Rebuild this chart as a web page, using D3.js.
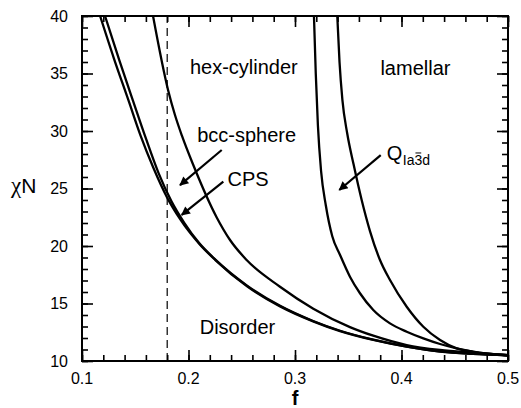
<!DOCTYPE html>
<html>
<head>
<meta charset="utf-8">
<script src="https://cdn.jsdelivr.net/npm/d3@7"></script>
<style>
  html, body { margin: 0; padding: 0; background: #fff; }
  svg text { font-family: "Liberation Sans", Arial, Helvetica, sans-serif; fill: #000; }
</style>
</head>
<body>
<svg id="chart" width="521" height="408"></svg>
<script>
// Phase boundaries: f (x) and chiN (y)
const odtF    = [0.117, 0.13, 0.1435, 0.155, 0.167, 0.18, 0.192, 0.21, 0.225, 0.255, 0.286, 0.317, 0.3423, 0.3735, 0.405, 0.436, 0.467, 0.5];
const odtChiN = [40, 36.3, 32.7, 29.6, 26.8, 24.2, 22.35, 20.2, 18.8, 16.5, 14.75, 13.45, 12.6, 11.83, 11.24, 10.82, 10.62, 10.5];

const cpsF    = [0.1216, 0.135, 0.148, 0.16, 0.172, 0.184, 0.196, 0.21, 0.225, 0.255, 0.286, 0.317, 0.3423, 0.3735, 0.405, 0.436, 0.467, 0.5];
const cpsChiN = [40, 36.17, 32.6, 29.35, 26.31, 23.88, 22.02, 20.26, 18.84, 16.56, 14.8, 13.48, 12.63, 11.85, 11.25, 10.83, 10.62, 10.5];

const hexF    = [0.1667, 0.1808, 0.1873, 0.1939, 0.2045, 0.2265, 0.239, 0.2546, 0.2859, 0.3172, 0.3516, 0.3735, 0.4049, 0.4362, 0.4671, 0.5];
const hexChiN = [40, 33.57, 31.39, 29.57, 27.04, 22.48, 20.52, 18.78, 16.46, 14.55, 12.95, 12.2, 11.39, 10.96, 10.72, 10.5];

const gyrLoF    = [0.3178, 0.3195, 0.3215, 0.3245, 0.329, 0.335, 0.3423, 0.3516, 0.361, 0.3735, 0.3892, 0.4049, 0.4205, 0.4362, 0.4518, 0.4671, 0.5];
const gyrLoChiN = [40, 35, 30.5, 26.5, 23.5, 20.85, 19.22, 17.33, 15.89, 14.43, 13.27, 12.55, 11.97, 11.48, 11.1, 10.81, 10.5];

const gyrHiF    = [0.3397, 0.3418, 0.3445, 0.349, 0.355, 0.3626, 0.3704, 0.3798, 0.3892, 0.4049, 0.4205, 0.4362, 0.4518, 0.4674, 0.5];
const gyrHiChiN = [40, 36, 32.7, 29.8, 27.1, 24.0, 21.3, 18.78, 17.04, 14.72, 12.98, 11.83, 11.1, 10.8, 10.5];

const boundaries = [
  [odtF, odtChiN], [cpsF, cpsChiN], [hexF, hexChiN], [gyrLoF, gyrLoChiN], [gyrHiF, gyrHiChiN],
];

const xMajor = [0.1, 0.2, 0.3, 0.4, 0.5];
const yMajor = [10, 15, 20, 25, 30, 35, 40];
const dilutionF = 0.18;

// region labels: text, f, chiN (baseline)
const regionLabels = [
  ["hex-cylinder", 0.252, 35.0],
  ["lamellar", 0.4131, 34.87],
  ["bcc-sphere", 0.2546, 29.07],
  ["CPS", 0.2559, 25.24],
  ["Disorder", 0.246, 12.32],
];

// arrows: from [f, chiN] to [f, chiN]
const arrows = [
  [[0.2312, 28.35], [0.192, 25.3]],
  [[0.2327, 25.59], [0.1936, 22.7]],
  [[0.3805, 27.91], [0.3416, 24.87]],
];

const margin = { top: 16, right: 13, bottom: 47, left: 82 };
const width = 521 - margin.left - margin.right;
const height = 408 - margin.top - margin.bottom;

const svg = d3.select("#chart");
const g = svg.append("g").attr("transform", `translate(${margin.left},${margin.top})`);

const x = d3.scaleLinear().domain([0.1, 0.5]).range([0, width]);
const y = d3.scaleLinear().domain([10, 40]).range([height, 0]);

svg.append("defs").append("clipPath").attr("id", "plot-clip")
  .append("rect").attr("width", width).attr("height", height);

svg.select("defs").append("marker")
  .attr("id", "arrowhead")
  .attr("viewBox", "0 0 10 10")
  .attr("refX", 9).attr("refY", 5)
  .attr("markerWidth", 11).attr("markerHeight", 9)
  .attr("markerUnits", "userSpaceOnUse")
  .attr("orient", "auto")
  .append("path").attr("d", "M0,0 L10,5 L0,10 Z").attr("fill", "#000");

// ticks on all four sides, pointing inward
function drawAxis(axis, transform, values, size) {
  const a = g.append("g").attr("transform", transform)
    .call(axis.tickValues(values).tickSize(size).tickFormat(""));
  a.select(".domain").remove();
  a.selectAll(".tick line").attr("stroke", "#000").attr("stroke-width", 1.6);
}
const xMinor = d3.range(0.1, 0.5001, 0.02).map(v => +v.toFixed(2));
const yMinor = d3.range(10, 40.001, 1);

drawAxis(d3.axisBottom(x), `translate(0,${height})`, xMajor, -11);
drawAxis(d3.axisBottom(x), `translate(0,${height})`, xMinor, -6);
drawAxis(d3.axisTop(x), "translate(0,0)", xMajor, -11);
drawAxis(d3.axisTop(x), "translate(0,0)", xMinor, -6);
drawAxis(d3.axisLeft(y), "translate(0,0)", yMajor, -11);
drawAxis(d3.axisLeft(y), "translate(0,0)", yMinor, -6);
drawAxis(d3.axisRight(y), `translate(${width},0)`, yMajor, -11);
drawAxis(d3.axisRight(y), `translate(${width},0)`, yMinor, -6);

// tick labels
g.append("g").selectAll("text").data(xMajor).join("text")
  .attr("x", d => x(d)).attr("y", height + 22.5)
  .attr("text-anchor", "middle").attr("font-size", 16)
  .text(d => d3.format(".1f")(d));

g.append("g").selectAll("text").data(yMajor).join("text")
  .attr("x", -14).attr("y", d => y(d) + 5.5)
  .attr("text-anchor", "end").attr("font-size", 16)
  .text(d => d);

// frame
g.append("rect").attr("width", width).attr("height", height)
  .attr("fill", "none").attr("stroke", "#000").attr("stroke-width", 2);

// dashed line at f = 0.18
g.append("line")
  .attr("x1", x(dilutionF)).attr("x2", x(dilutionF))
  .attr("y1", y(10)).attr("y2", y(40))
  .attr("stroke", "#000").attr("stroke-width", 1.2)
  .attr("stroke-dasharray", "8,5");

// phase boundaries
const line = d3.line().x(d => x(d[0])).y(d => y(d[1])).curve(d3.curveMonotoneX);
g.append("g").attr("clip-path", "url(#plot-clip)")
  .selectAll("path").data(boundaries).join("path")
  .attr("d", ([fs, cs]) => line(fs.map((f, i) => [f, cs[i]])))
  .attr("fill", "none").attr("stroke", "#000").attr("stroke-width", 2.3)
  .attr("stroke-linejoin", "round");

// region labels
g.append("g").selectAll("text").data(regionLabels).join("text")
  .attr("x", d => x(d[1])).attr("y", d => y(d[2]))
  .attr("text-anchor", "middle").attr("font-size", 20)
  .text(d => d[0]);

// arrows
g.append("g").selectAll("line").data(arrows).join("line")
  .attr("x1", d => x(d[0][0])).attr("y1", d => y(d[0][1]))
  .attr("x2", d => x(d[1][0])).attr("y2", d => y(d[1][1]))
  .attr("stroke", "#000").attr("stroke-width", 2.2)
  .attr("marker-end", "url(#arrowhead)");

// Q_Ia3d label with bar over the 3
const qx = x(0.3861), qy = y(27.48);
const q = g.append("text").attr("x", qx).attr("y", qy).attr("font-size", 20).text("Q");
let sx = qx + q.node().getComputedTextLength() + 0.5;
const subY = qy + 5;
["Ia", "3", "d"].forEach(s => {
  const t = g.append("text").attr("x", sx).attr("y", subY).attr("font-size", 14).text(s);
  const w = t.node().getComputedTextLength();
  if (s === "3") {
    g.append("line").attr("x1", sx + 1).attr("x2", sx + w - 1)
      .attr("y1", subY - 12).attr("y2", subY - 12)
      .attr("stroke", "#000").attr("stroke-width", 1);
  }
  sx += w;
});

// axis titles
const yTitle = svg.append("text").attr("x", 11).attr("y", 193).attr("font-size", 21);
yTitle.append("tspan").attr("font-family", "'Liberation Serif', 'DejaVu Serif', serif")
  .attr("font-size", 23).text("\u03C7");
yTitle.append("tspan").text("N");
svg.append("text").attr("x", margin.left + x(0.3)).attr("y", 405)
  .attr("text-anchor", "middle").attr("font-size", 20).attr("font-weight", "bold")
  .text("f");
</script>
</body>
</html>
